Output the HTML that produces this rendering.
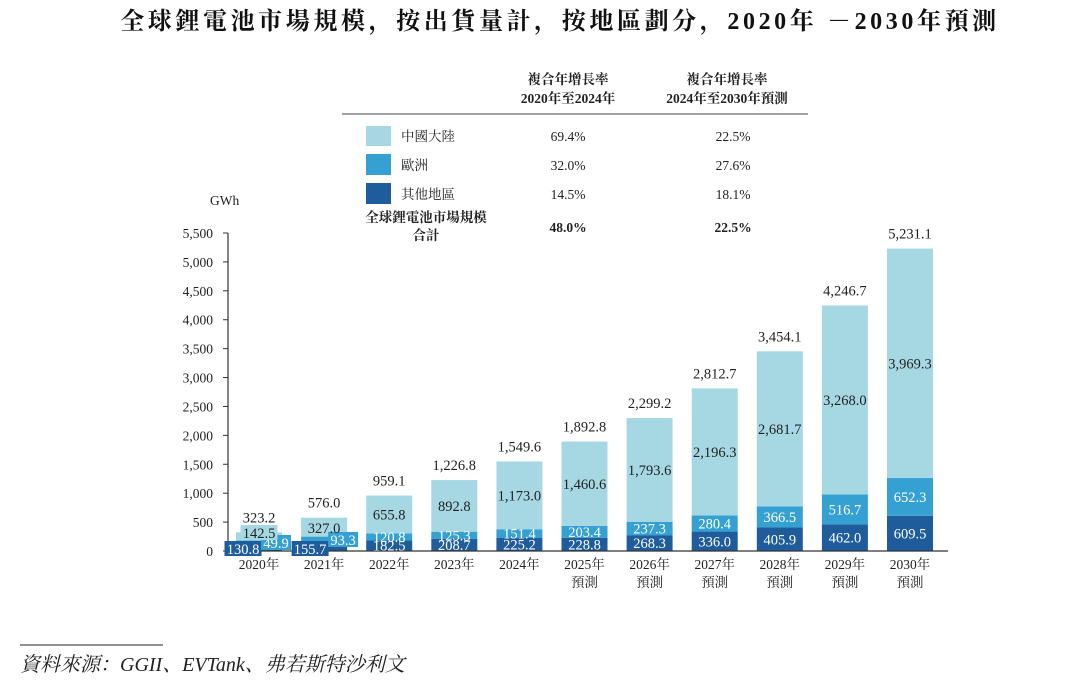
<!DOCTYPE html>
<html><head><meta charset="utf-8"><style>
body{margin:0;background:#fff;}
svg text{font-family:"Liberation Serif","Noto Serif CJK SC",serif;}
</style></head><body>
<svg width="1080" height="688" xmlns="http://www.w3.org/2000/svg">
<text x="560" y="29" text-anchor="middle" font-size="24" font-weight="bold" letter-spacing="3.6" fill="#111">全球鋰電池市場規模，按出貨量計，按地區劃分，2020年 －2030年預測</text>
<g font-size="13.5" fill="#222">
<text x="568" y="84" text-anchor="middle" font-weight="bold">複合年增長率</text>
<text x="568" y="103" text-anchor="middle" font-weight="bold">2020年至2024年</text>
<text x="727" y="84" text-anchor="middle" font-weight="bold">複合年增長率</text>
<text x="727" y="103" text-anchor="middle" font-weight="bold">2024年至2030年預測</text>
<line x1="342" y1="114" x2="808" y2="114" stroke="#444" stroke-width="1"/>
<rect x="366" y="126" width="25" height="20" fill="#a6d8e3"/>
<rect x="366" y="154" width="25" height="21" fill="#35a0d2"/>
<rect x="366" y="183" width="25" height="21" fill="#1e5c9c"/>
<text x="401" y="141">中國大陸</text>
<text x="401" y="170">歐洲</text>
<text x="401" y="199">其他地區</text>
<text x="568" y="141" text-anchor="middle">69.4%</text><text x="733" y="141" text-anchor="middle">22.5%</text>
<text x="568" y="170" text-anchor="middle">32.0%</text><text x="733" y="170" text-anchor="middle">27.6%</text>
<text x="568" y="199" text-anchor="middle">14.5%</text><text x="733" y="199" text-anchor="middle">18.1%</text>
<text x="426" y="222" text-anchor="middle" font-weight="bold">全球鋰電池市場規模</text>
<text x="426" y="240" text-anchor="middle" font-weight="bold">合計</text>
<text x="568" y="232" text-anchor="middle" font-weight="bold">48.0%</text>
<text x="733" y="232" text-anchor="middle" font-weight="bold">22.5%</text>
</g>
<text x="210" y="205" font-size="13.5" fill="#222">GWh</text>
<g id="plot"></g>
<line x1="20" y1="645" x2="163" y2="645" stroke="#222" stroke-width="1"/>
<text x="20" y="671" font-size="20" font-style="italic" fill="#222">資料來源：GGII、EVTank、弗若斯特沙利文</text>
</svg>
<script>
const years=["2020年","2021年","2022年","2023年","2024年","2025年","2026年","2027年","2028年","2029年","2030年"];
const forecast=[false,false,false,false,false,true,true,true,true,true,true];
const other=[130.8,155.7,182.5,208.7,225.2,228.8,268.3,336.0,405.9,462.0,609.5];
const europe=[49.9,93.3,120.8,125.3,151.4,203.4,237.3,280.4,366.5,516.7,652.3];
const china=[142.5,327.0,655.8,892.8,1173.0,1460.6,1793.6,2196.3,2681.7,3268.0,3969.3];
const totals=[323.2,576.0,959.1,1226.8,1549.6,1892.8,2299.2,2812.7,3454.1,4246.7,5231.1];
const yTicks=[0,500,1000,1500,2000,2500,3000,3500,4000,4500,5000,5500];
const NS="http://www.w3.org/2000/svg";
const g=document.getElementById('plot');
const y0=551,yMax=5500,yTop=233;
const yS=v=>y0-(v/yMax)*(y0-yTop);
const xC=i=>259+i*65.1;
const bw=46;
function mk(t,a,p){const e=document.createElementNS(NS,t);for(const k in a)e.setAttribute(k,a[k]);(p||g).appendChild(e);return e;}
function fmt(v){return v.toLocaleString('en-US',{minimumFractionDigits:1,maximumFractionDigits:1});}
yTicks.forEach(v=>{
 const t=mk('text',{x:213,y:yS(v)+5,'text-anchor':'end','font-size':13.5,fill:'#222'});t.textContent=v.toLocaleString('en-US');
 
 
 const l=mk('line',{x1:223,x2:228,y1:yS(v),y2:yS(v),stroke:'#333'});
 
 
});
const cols=['#1e5c9c','#35a0d2','#a6d8e3'];
const series=[other,europe,china];
const names=['other','europe','china'];
// label offsets for the two small early bars (relative to bar centre / baseline)
const smallOff=[
 [{dx:-16,y:554,box:true},{dx:17,y:548,box:true},{dx:0,y:538,box:true}],
 [{dx:-14,y:554,box:true},{dx:19,y:545,box:true},{dx:0,y:533,box:false}]
];
const labelLayer=[];
years.forEach((yr,i)=>{
 let base=0;
 series.forEach((s,k)=>{
  const v=s[i];
  const r=mk('rect',{x:xC(i)-bw/2,y:yS(base+v),width:bw,height:yS(base)-yS(base+v),fill:cols[k]});
  
  
  const mid=(yS(base)+yS(base+v))/2;
  let lx=xC(i),ly=mid+5,box=false;
  if(i<2){const o=smallOff[i][k];lx=xC(i)+o.dx;ly=o.y;box=o.box;}
  labelLayer.push({lx,ly,k,v,box});
  base+=v;
 });
 const tt=mk('text',{x:xC(i),y:yS(totals[i])-10,'text-anchor':'middle','font-size':14.5,fill:'#222'});
 tt.textContent=fmt(totals[i]);
 
 
 const xl=mk('text',{x:xC(i),y:569,'text-anchor':'middle','font-size':13.5,fill:'#222'});
 xl.textContent=yr;
 
 
 if(forecast[i]){
  const f=mk('text',{x:xC(i),y:587,'text-anchor':'middle','font-size':13.5,fill:'#222'});
  f.textContent='預測';
  
  
 }
});
const ax=mk('line',{x1:228,y1:yTop,x2:228,y2:y0,stroke:'#333','stroke-width':1.2});


const xa=mk('line',{x1:228,y1:y0,x2:948,y2:y0,stroke:'#333','stroke-width':1.2});


labelLayer.forEach(o=>{
 const txt=fmt(o.v);
 if(o.box){
  const w=txt.length*7+2;
  const b=mk('rect',{x:o.lx-w/2,y:o.ly-13,width:w,height:15,fill:cols[o.k]});
  
  
 }
 const t=mk('text',{x:o.lx,y:o.ly,'text-anchor':'middle','font-size':14.5,fill:o.k<2?'#fff':'#222'});
 t.textContent=txt;
 
 
});
</script>
</body></html>
